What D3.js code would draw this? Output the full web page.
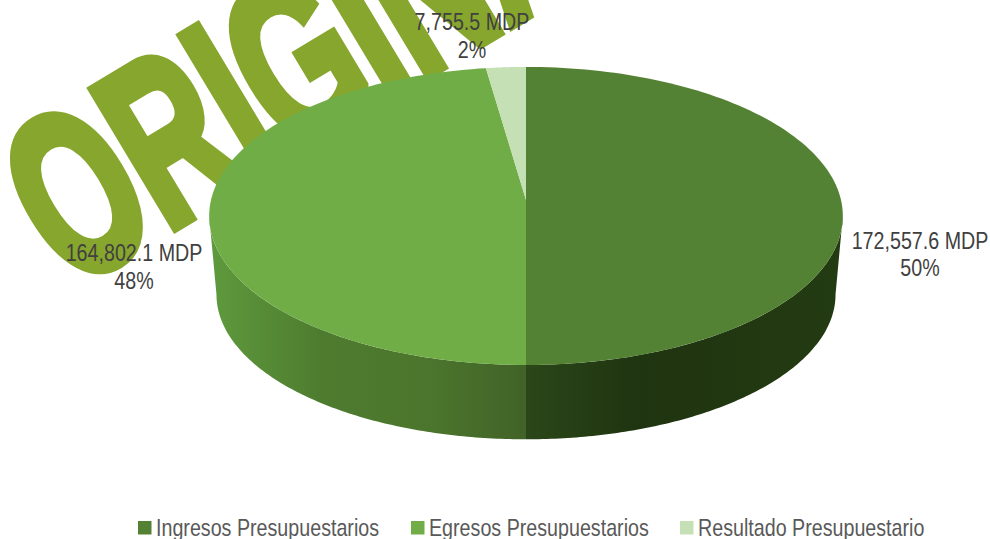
<!DOCTYPE html>
<html><head><meta charset="utf-8">
<script src="https://cdn.jsdelivr.net/npm/d3@7/dist/d3.min.js"></script>
<style>html,body{margin:0;padding:0;background:#fff;overflow:hidden}svg{display:block}</style>
</head><body><svg id="c" width="990" height="539"></svg>
<script>
const categories = ["Ingresos Presupuestarios","Egresos Presupuestarios","Resultado Presupuestario"];
const values = [172557.6,164802.1,7755.5];
const valueLabels = ["172,557.6 MDP","164,802.1 MDP","7,755.5 MDP"];
const pctLabels = ["50%","48%","2%"];
const topColors = ["#548235","#70ad47","#c5e0b4"];
const legendColors = ["#548235","#70ad47","#c5e0b4"];
const wallStops = [
  [[0,"#2b4719"],[0.35,"#1f3410"],[1,"#233b12"]],
  [[0,"#5f9a3d"],[0.35,"#4e7c2f"],[0.7,"#4b752c"],[1,"#416228"]],
  [[0,"#8fae7c"],[1,"#8fae7c"]]
];
const labelPos = [[920,241,268],[134,253,281],[472,22,50]];
const legendX = [138,411,680];

const svg = d3.select("#c");
// watermark
svg.append("text").text("ORIGINAL")
  .attr("transform","translate(70,290) rotate(-31) scale(0.62,1)")
  .attr("font-family","Liberation Sans").attr("font-weight",700).attr("font-size",232)
  .attr("fill","#87a62d").attr("stroke","#87a62d").attr("stroke-width",11);

// perspective pie
const cx=526, cy=200, k=0.107, A=315, B=147.3, depth=79;
const proj=(t,a,b,dy)=>{const s=Math.sin(t),c=Math.cos(t),w=1+k*c;return [cx+a*s/w, cy+dy-b*c/w];};
const pie=d3.pie().sort(null).startAngle(0).endAngle(2*Math.PI)(values);
const line=d3.line();
const samples=(a,b)=>d3.range(0,121).map(i=>a+(b-a)*i/120);
const th0=Math.acos(-k), th1=2*Math.PI-th0;
const defs=svg.append("defs");
// walls
pie.forEach((p,i)=>{
  const a=Math.max(p.startAngle,th0), b=Math.min(p.endAngle,th1);
  if(b<=a) return;
  const top=samples(a,b).map(t=>proj(t,A,B,0));
  const bot=samples(b,a).map(t=>proj(t,A*0.977,B*0.972,depth));
  const xs=top.map(d=>d[0]).concat(bot.map(d=>d[0]));
  const g=defs.append("linearGradient").attr("id","w"+i).attr("gradientUnits","userSpaceOnUse")
    .attr("x1",d3.min(xs)).attr("x2",d3.max(xs)).attr("y1",0).attr("y2",0);
  wallStops[i].forEach(s=>g.append("stop").attr("offset",s[0]).attr("stop-color",s[1]));
  svg.append("path").attr("d",line(top.concat(bot))+"Z").attr("fill","url(#w"+i+")");
});
// top faces
pie.forEach((p,i)=>{
  const pts=[[cx,cy]].concat(samples(p.startAngle,p.endAngle).map(t=>proj(t,A,B,0)));
  svg.append("path").attr("d",line(pts)+"Z").attr("fill",topColors[i]);
});
// labels (horizontally condensed text)
const sx=0.82;
const font="'Liberation Sans',sans-serif";
values.forEach((v,i)=>{
  const [x,y1,y2]=labelPos[i];
  [[valueLabels[i],y1],[pctLabels[i],y2]].forEach(([t,y])=>{
    svg.append("text").text(t).attr("transform",`translate(${x},${y}) scale(${sx},1)`).attr("dy","0.35em")
      .attr("text-anchor","middle").attr("font-family",font).attr("font-size",24).attr("fill","#404040");
  });
});
// legend
categories.forEach((c,i)=>{
  svg.append("rect").attr("x",legendX[i]).attr("y",521).attr("width",13.5).attr("height",13.5).attr("fill",legendColors[i]);
  svg.append("text").text(c).attr("transform",`translate(${legendX[i]+18},528) scale(${sx},1)`).attr("dy","0.35em")
    .attr("font-family",font).attr("font-size",24).attr("fill","#595959");
});
</script></body></html>
